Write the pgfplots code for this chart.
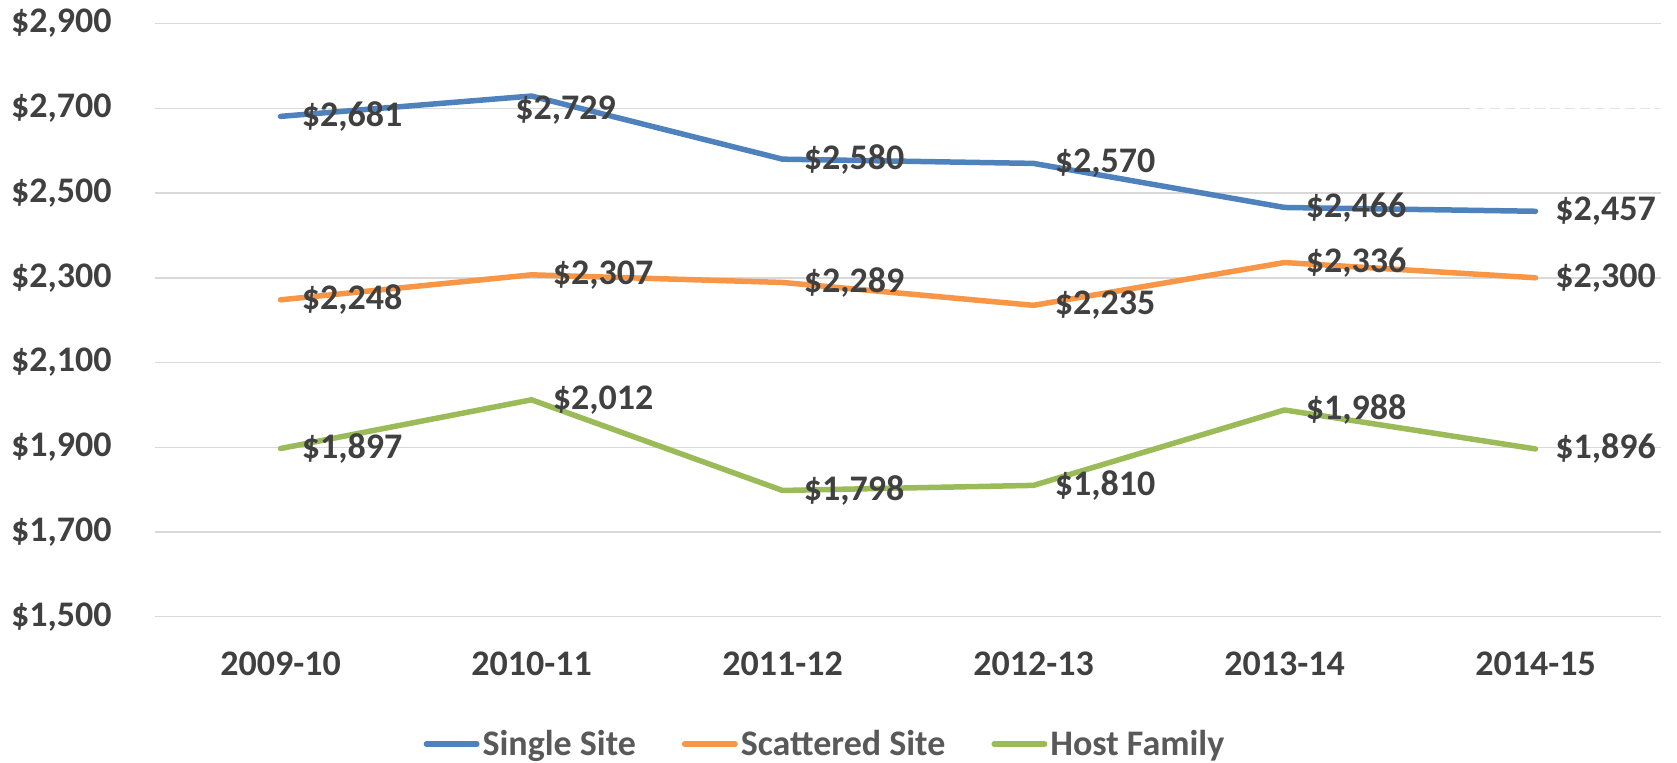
\documentclass[border=0pt]{standalone}
\usepackage{fontspec}
\setmainfont{Carlito}
\usepackage{pgfplots}
\usepackage{pgfplotstable}
\pgfplotsset{compat=1.18}

\definecolor{SeriesBlue}{HTML}{4F81BD}
\definecolor{SeriesOrange}{HTML}{F79646}
\definecolor{SeriesGreen}{HTML}{9BBB59}
\definecolor{GridGray}{HTML}{D9D9D9}
\definecolor{LabelGray}{HTML}{404040}
\definecolor{LegendGray}{HTML}{595959}

% x = category index, dx/dy = label offset in pt
\pgfplotstableread{
x y dx dy
0 2681 9.3 0
1 2729 -9.5 -7
2 2580 9.3 0
3 2570 9.3 0
4 2466 9.3 0
5 2457 8.5 0
}\singlesite
\pgfplotstableread{
x y dx dy
0 2248 9.3 0
1 2307 9.3 0
2 2289 9.3 0
3 2235 9.3 0
4 2336 9.3 0
5 2300 8.5 0
}\scattered
\pgfplotstableread{
x y dx dy
0 1897 9.3 0
1 2012 9.3 0
2 1798 9.3 0
3 1810 9.3 0
4 1988 9.3 0
5 1896 8.5 0
}\hostfamily

\newcommand{\lblfont}{\fontsize{18}{21}\selectfont\bfseries}

\begin{document}
\begin{tikzpicture}
\begin{axis}[
  scale only axis, width=753pt, height=296.55pt,
  xmin=-0.5, xmax=5.5, ymin=1500, ymax=2900,
  clip=false,
  axis line style={draw=none},
  major tick length=0pt,
  ymajorgrids, grid style={line width=0.75pt, color=GridGray},
  xtick={0,...,5},
  xticklabels={2009-10,2010-11,2011-12,2012-13,2013-14,2014-15},
  ytick={1500,1700,...,2900},
  /pgf/number format/assume math mode=true,
  /pgf/number format/fixed,
  /pgf/number format/precision=0,
  /pgf/number format/1000 sep={,},
  yticklabel={\$\pgfmathprintnumber{\tick}},
  tick label style={font=\lblfont, text=LabelGray},
  xticklabel style={anchor=center, yshift=-23.6pt},
  yticklabel style={anchor=east, inner sep=0pt, xshift=-21.5pt},
  legend style={at={(0.4452,-0.2146)}, anchor=center, draw=none, fill=none,
    font=\lblfont, text=LegendGray, legend columns=3,
    nodes={inner sep=1.5pt},
    /tikz/every even column/.append style={column sep=21.5pt}},
  legend image code/.code={\draw[line width=2.75pt, line cap=round] (1.4pt,0pt) -- (26.6pt,0pt);},
  every axis plot/.append style={line width=2.75pt, line cap=round, line join=round, mark=none},
  nodes near coords={\$\pgfmathprintnumber{\pgfplotspointmeta}},
  visualization depends on={\thisrow{dx} \as \dx},
  visualization depends on={\thisrow{dy} \as \dy},
  every node near coord/.append style={anchor=west, inner sep=0pt,
    xshift=\dx pt, yshift=\dy pt, font=\lblfont, text=LabelGray},
]
  % faint dashed bit of the 2700 gridline at the right
  \draw[white, line width=1.5pt] (axis cs:4.74,2700) -- (axis cs:5.5,2700);
  \draw[GridGray!70, line width=0.75pt, dash pattern=on 5pt off 2.5pt] (axis cs:4.76,2700) -- (axis cs:5.5,2700);

  \addplot[SeriesBlue] table[x=x, y=y] {\singlesite};
  \addlegendentry{Single Site}
  \addplot[SeriesOrange] table[x=x, y=y] {\scattered};
  \addlegendentry{Scattered Site}
  \addplot[SeriesGreen] table[x=x, y=y] {\hostfamily};
  \addlegendentry{Host Family}

  \coordinate (sw) at (rel axis cs:0,0);
  \coordinate (ne) at (rel axis cs:1,1);
\end{axis}
\pgfresetboundingbox
\path[use as bounding box] ([shift={(-77.5pt,-72.65pt)}]sw) rectangle ([shift={(8pt,11.8pt)}]ne);
\end{tikzpicture}
\end{document}
